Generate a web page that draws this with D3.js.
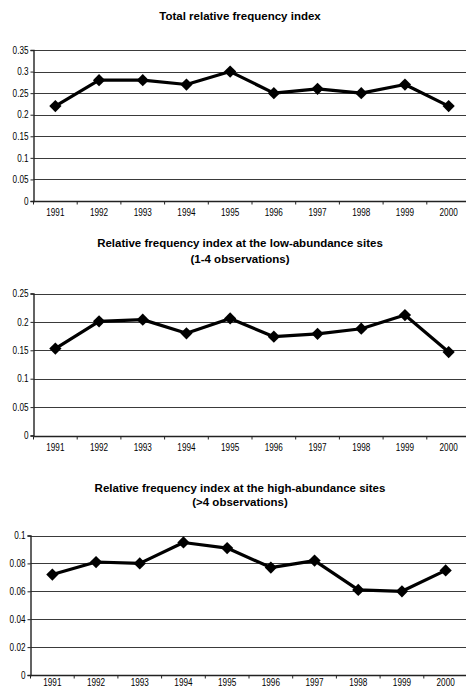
<!DOCTYPE html>
<html><head><meta charset="utf-8">
<script src="https://cdn.jsdelivr.net/npm/d3@7/dist/d3.min.js"></script>
<style>body{margin:0;background:#fff}svg{display:block}</style>
</head><body>
<svg id="c" width="466" height="689"></svg>
<script>
const years = ["1991","1992","1993","1994","1995","1996","1997","1998","1999","2000"];
const totalValues = [0.22, 0.28, 0.28, 0.27, 0.30, 0.25, 0.26, 0.25, 0.27, 0.22];
const lowValues = [0.153, 0.201, 0.204, 0.180, 0.206, 0.174, 0.179, 0.188, 0.212, 0.147];
const highValues = [0.072, 0.081, 0.080, 0.095, 0.091, 0.077, 0.082, 0.061, 0.060, 0.075];
const totalTicks = [0, 0.05, 0.1, 0.15, 0.2, 0.25, 0.3, 0.35];
const lowTicks = [0, 0.05, 0.1, 0.15, 0.2, 0.25];
const highTicks = [0, 0.02, 0.04, 0.06, 0.08, 0.1];
const titles = [
  ["Total relative frequency index"],
  ["Relative frequency index at the low-abundance sites", "(1-4 observations)"],
  ["Relative frequency index at the high-abundance sites", "(>4 observations)"]
];

const svg = d3.select("#c");
const font = "'Liberation Sans', Arial, sans-serif";
const narrow = "'Liberation Sans Narrow', 'Arial Narrow', 'Liberation Sans', Arial, sans-serif";

const panels = [
  {values: totalValues, ticks: totalTicks, title: titles[0], x0: 33.5, top: 50, bottom: 201, titleY: [20], labelY: 216.5},
  {values: lowValues, ticks: lowTicks, title: titles[1], x0: 33.5, top: 293.5, bottom: 435.5, titleY: [246.5, 262.5], labelY: 451.5},
  {values: highValues, ticks: highTicks, title: titles[2], x0: 30.5, top: 535.5, bottom: 675, titleY: [491.5, 505.5], labelY: 686.5}
];

const diamond = {draw(ctx, size) { const r = Math.sqrt(size) / 2; ctx.moveTo(0, -r); ctx.lineTo(r, 0); ctx.lineTo(0, r); ctx.lineTo(-r, 0); ctx.closePath(); }};

panels.forEach(p => {
  const g = svg.append("g");
  const x = d3.scaleBand().domain(years).range([p.x0, p.x0 + 437]).padding(0);
  const y = d3.scaleLinear().domain([0, d3.max(p.ticks)]).range([p.bottom, p.top]);

  p.title.forEach((t, i) => {
    g.append("text").attr("x", 240).attr("y", p.titleY[i])
      .attr("text-anchor", "middle").attr("font-family", font)
      .attr("font-weight", "bold").attr("font-size", 11.5).attr("fill", "#000").text(t);
  });

  g.selectAll("line.grid").data(p.ticks.filter(t => t > 0)).join("line")
    .attr("class", "grid")
    .attr("x1", p.x0).attr("x2", 466)
    .attr("y1", d => Math.round(y(d)) + 0.5).attr("y2", d => Math.round(y(d)) + 0.5)
    .attr("stroke", "#3a3a3a").attr("stroke-width", 1.1);

  const yAxis = d3.axisLeft(y).tickValues(p.ticks).tickSize(3).tickPadding(2)
    .tickFormat(d => String(+d.toFixed(3)));
  const ya = g.append("g").attr("transform", `translate(${p.x0},0)`).call(yAxis);
  ya.select(".domain").attr("stroke", "#222").attr("stroke-width", 1.4);
  ya.selectAll(".tick line").attr("stroke", "#222");
  ya.selectAll("text").attr("class", "lbl").attr("font-family", narrow).attr("font-size", 10).attr("fill", "#000");

  const xa = g.append("g").attr("transform", `translate(0,${Math.round(p.bottom) + 0.5})`);
  xa.append("line").attr("x1", p.x0).attr("x2", 466).attr("y1", 0).attr("y2", 0)
    .attr("stroke", "#222").attr("stroke-width", 1.4);
  xa.selectAll("line.tk").data(years).join("line").attr("class", "tk")
    .attr("x1", d => x(d)).attr("x2", d => x(d)).attr("y1", 0).attr("y2", 3)
    .attr("stroke", "#222");
  g.selectAll("text.xl").data(years).join("text").attr("class", "xl lbl")
    .attr("x", d => x(d) + x.bandwidth() / 2).attr("y", p.labelY)
    .attr("text-anchor", "middle").attr("font-family", narrow).attr("font-size", 10)
    .attr("fill", "#000").text(d => d);

  const line = d3.line().x((d, i) => x(years[i]) + x.bandwidth() / 2).y(d => y(d));
  g.append("path").datum(p.values).attr("d", line).attr("fill", "none")
    .attr("stroke", "#000").attr("stroke-width", 3.2).attr("stroke-linejoin", "round");

  const sym = d3.symbol().type(diamond).size(150);
  g.selectAll("path.m").data(p.values).join("path").attr("class", "m")
    .attr("transform", (d, i) => `translate(${x(years[i]) + x.bandwidth() / 2},${y(d)})`)
    .attr("d", sym).attr("fill", "#000");
});

const probe = svg.append("text").attr("font-family", narrow).attr("font-size", 10).text("1991");
const w = probe.node().getComputedTextLength();
probe.remove();
if (w > 19.5) {
  const k = 18.2 / w;
  svg.selectAll("text.lbl").each(function() {
    const t = d3.select(this);
    const xx = +t.attr("x") || 0;
    t.attr("transform", `translate(${xx},0) scale(${k},1) translate(${-xx},0)`);
  });
}
</script>
</body></html>
